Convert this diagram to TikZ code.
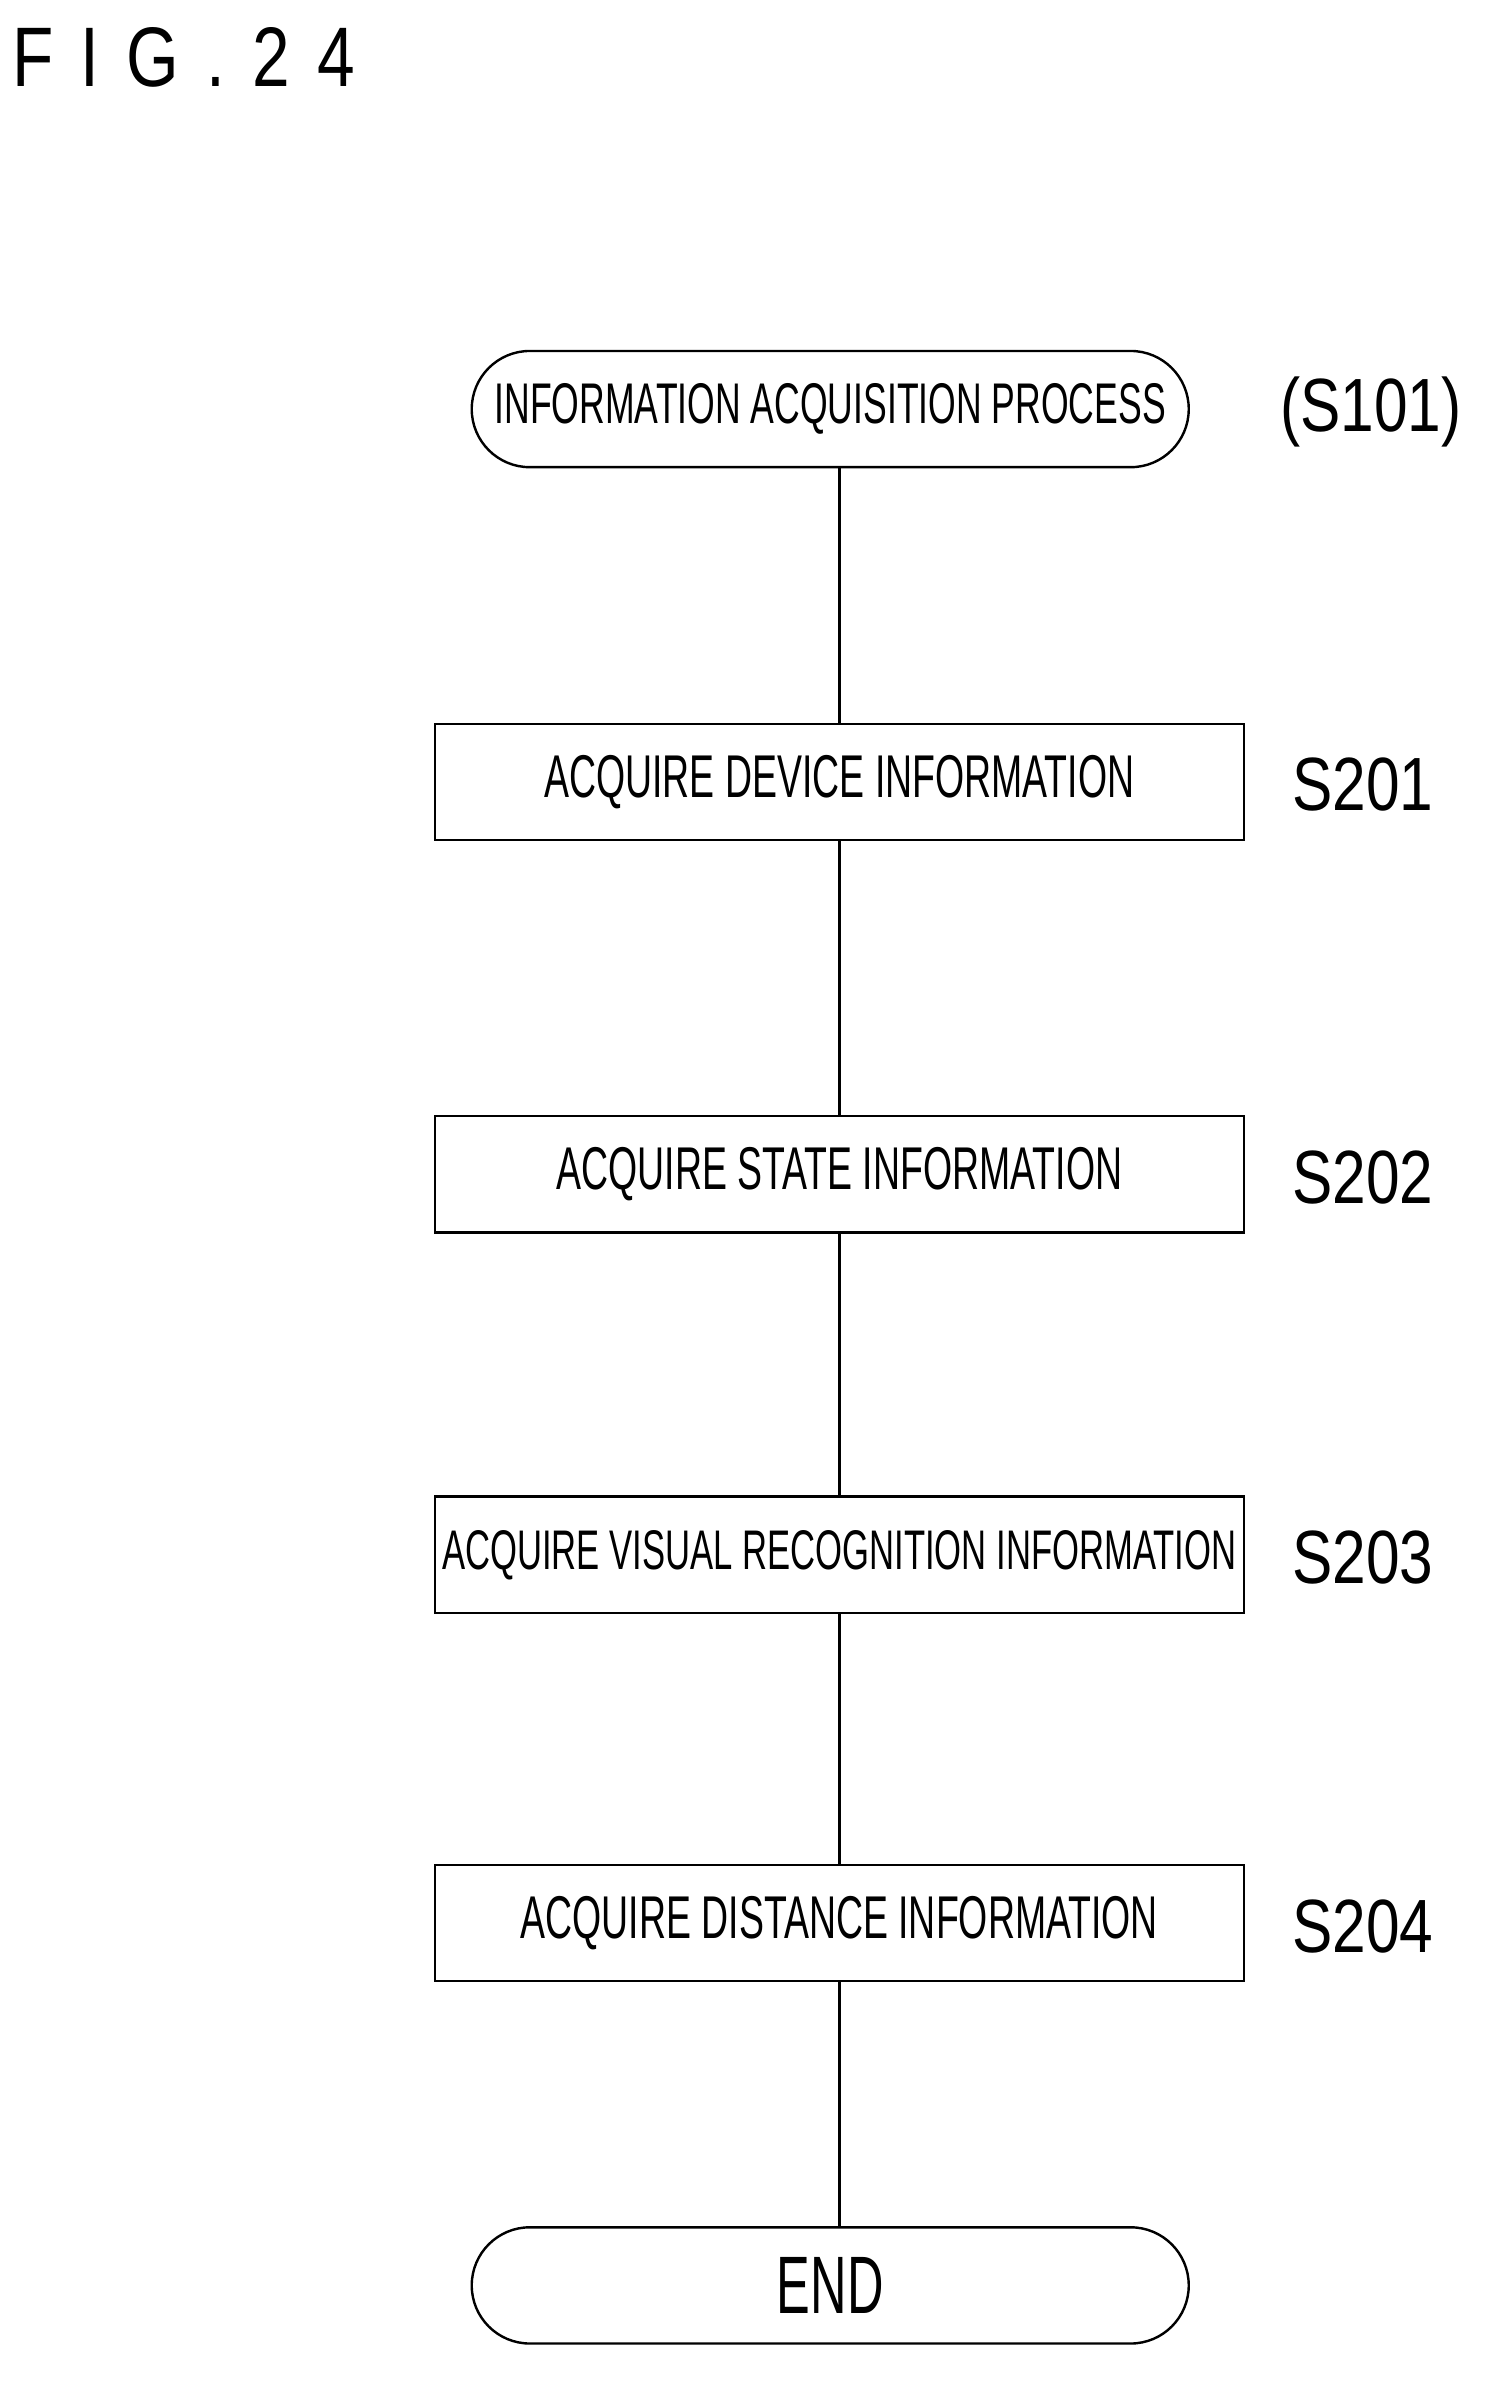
\documentclass[tikz,border=0pt]{standalone}
\usepackage{fontspec}
\setmainfont{Liberation Sans}[FakeStretch=0.62]
\newfontfamily\labelfont{Liberation Sans}[FakeStretch=0.8]
\usetikzlibrary{positioning,shapes.misc}
\begin{document}
\begin{tikzpicture}[x=1pt,y=-1pt,inner sep=0pt]
    \tikzset{procbox/.style={rectangle,draw,line width=1.6pt,minimum width=536pt,minimum height=77pt,font=\fontsize{40}{40}\selectfont},
        term/.style={rounded rectangle,draw,line width=1.6pt,minimum width=475pt,minimum height=77pt},
        steplabel/.style={font=\labelfont\fontsize{50}{50}\selectfont,anchor=west}}
    \useasboundingbox (0,0) rectangle (1000,1578);
    \node[anchor=north west,font=\labelfont\fontsize{56}{56}\selectfont] (fig) at (8,18) {F\hspace{18pt}I\hspace{18pt}G\hspace{18pt}.\hspace{18pt}2\hspace{18pt}4};
    \node[term,font=\fontsize{38}{38}\selectfont] (start) at (550,271) {INFORMATION ACQUISITION PROCESS};
    \node[steplabel] (l101) at (848,273) {(S101)};
    \node[procbox] (s201) at (556,518) {ACQUIRE DEVICE INFORMATION};
    \node[procbox] (s202) at (556,778) {ACQUIRE STATE INFORMATION};
    \node[procbox,font=\fontsize{37}{37}\selectfont] (s203) at (556,1030) {ACQUIRE VISUAL RECOGNITION INFORMATION};
    \node[procbox] (s204) at (556,1274) {ACQUIRE DISTANCE INFORMATION};
    \node[term,font=\fontsize{54}{54}\selectfont] (end) at (550,1514) {END};
    \node[steplabel] (l201) at (856,520) {S201};
    \node[steplabel] (l202) at (856,780) {S202};
    \node[steplabel] (l203) at (856,1032) {S203};
    \node[steplabel] (l204) at (856,1276) {S204};
    \draw[line width=1.6pt] (start.south-|s201) -- (s201);
    \draw[line width=1.6pt] (s201) -- (s202);
    \draw[line width=1.6pt] (s202) -- (s203);
    \draw[line width=1.6pt] (s203) -- (s204);
    \draw[line width=1.6pt] (s204) -- (end.north-|s204);
\end{tikzpicture}
\end{document}
